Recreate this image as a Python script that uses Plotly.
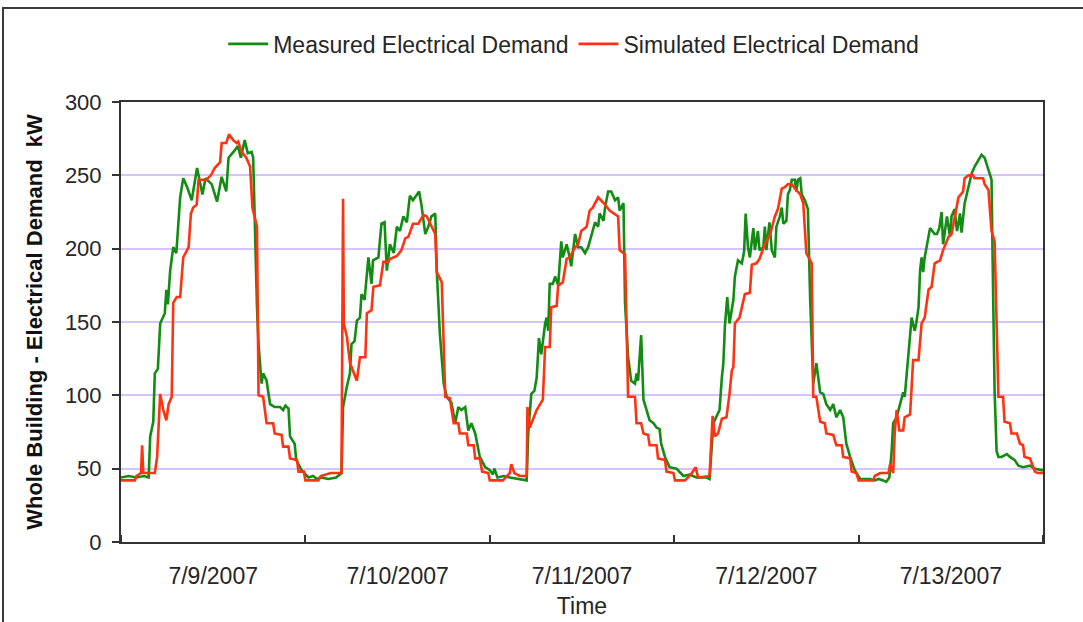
import pandas as pd
import plotly.graph_objects as go

# Measured electrical demand (hours since 7/9/2007 00:00, kW)
meas_hours = [0, 1, 2, 3, 3.6, 3.8, 4.2, 4.4, 4.8, 5.1, 5.7, 5.9, 6.1, 6.4, 6.8, 7.2, 7.7, 8.1, 8.6, 9.2, 9.9, 10.6, 11.0, 11.8, 12.5, 13.1, 13.7, 14.0, 14.8, 15.2, 15.6, 16.1, 16.5, 17.0, 17.2, 17.4, 17.7, 17.9, 18.3, 18.5, 18.95, 19.4, 20.0, 20.7, 21.1, 21.4, 21.8, 22.0, 22.6, 22.8, 23.5, 24.4,
              25, 25.5, 26, 27, 28, 28.7, 28.9, 29.4, 29.8, 30.0, 30.4, 30.7, 31.1, 31.3, 31.7, 32.2, 32.6, 32.8, 33.5, 33.9, 34.3, 34.6, 35.0, 35.5, 35.9, 36.3, 36.75, 37.2, 37.6, 38.0, 38.5, 38.8, 39.1, 39.6, 40.0, 40.4, 40.9, 41.1, 41.5, 42.0, 42.4, 43.0, 43.5, 43.9, 44.3, 44.8, 45.2, 45.6, 46.1, 46.7, 47.4, 48.0,
              48.4, 48.6, 49, 49.8, 50.6, 51.7, 52.8, 53.0, 53.4, 53.8, 54.1, 54.4, 54.7, 55.2, 55.4, 55.6, 55.8, 56.2, 56.5, 56.9, 57.3, 57.5, 58.0, 58.4, 58.6, 59.1, 59.5, 59.9, 60.4, 60.8, 61.2, 61.7, 62.1, 62.3, 62.8, 63.0, 63.4, 63.8, 64.3, 64.7, 64.9, 65.4, 65.6, 66.0, 66.4, 66.9, 67.1, 67.3, 67.5, 67.7, 68.0, 68.4, 68.8, 69.3, 69.7, 70.1, 70.3, 70.8, 71.4, 72.3,
              73.2, 74.0, 74.9, 76.2, 76.6, 77.1, 77.5, 77.9, 78.2, 78.4, 78.6, 78.9, 79.2, 79.5, 79.7, 79.9, 80.3, 80.8, 81.1, 81.3, 81.6, 81.85, 82.3, 82.5, 82.9, 83.1, 83.6, 83.8, 84.0, 84.4, 84.7, 85.1, 85.3, 85.75, 86.0, 86.2, 86.6, 86.8, 87.05, 87.3, 87.7, 87.9, 88.1, 88.4, 88.6, 89.0, 89.4, 89.7, 90.1, 90.5, 91.0, 91.4, 91.8, 92.3, 92.7, 93.1, 93.6, 94.0, 94.4, 94.9, 95.5, 96.2,
              97.5, 98.1, 98.6, 99.2, 99.6, 100.0, 100.3, 100.5, 100.95, 101.4, 101.8, 102.0, 102.2, 102.6, 102.9, 103.3, 103.5, 103.8, 104.0, 104.2, 104.4, 104.6, 105.1, 105.3, 105.9, 106.2, 106.5, 106.8, 107.0, 107.5, 107.9, 108.1, 108.5, 108.8, 109.0, 109.2, 109.4, 109.8, 110.3, 110.7, 111.1, 111.6, 112.0, 112.4, 112.9, 113.3, 113.5, 113.7, 113.96, 114.2, 114.6, 115.3, 115.7, 116.3, 116.8, 117.4, 118.3, 118.95, 119.8, 120]
meas_kw = [44, 45, 44, 45, 44, 72, 82, 115, 118, 149, 156, 172, 162, 185, 201, 197, 235, 248, 242, 233, 255, 237, 248, 244, 232, 249, 239, 262, 267, 270, 262, 274, 265, 266, 262, 217, 160, 135, 108, 115, 110, 94, 92, 92, 90, 93, 91, 72, 67, 56, 49, 44,
           45, 43, 44, 43, 44, 47, 92, 106, 115, 135, 137, 151, 153, 169, 165, 194, 176, 192, 194, 217, 218, 185, 203, 197, 215, 212, 222, 218, 236, 233, 237, 239, 230, 210, 215, 222, 224, 185, 142, 108, 99, 95, 81, 92, 90, 92, 76, 81, 74, 58, 51, 49,
           46, 50, 44, 45, 44, 43, 42, 74, 101, 103, 112, 139, 128, 149, 153, 144, 176, 176, 181, 175, 205, 194, 203, 194, 188, 210, 201, 201, 197, 201, 208, 218, 215, 224, 219, 228, 239, 239, 233, 235, 226, 231, 163, 126, 110, 108, 115, 110, 126, 141, 97, 90, 83, 81, 78, 77, 67, 58, 51, 50,
           45, 46, 44, 44, 43, 81, 85, 90, 112, 122, 147, 167, 149, 160, 165, 181, 192, 190, 198, 224, 201, 194, 214, 199, 212, 199, 201, 215, 199, 218, 199, 194, 215, 222, 228, 217, 219, 237, 240, 247, 247, 239, 247, 248, 237, 233, 227, 165, 108, 122, 102, 101, 94, 90, 94, 85, 90, 85, 67, 58, 49, 43,
           43, 42, 43, 42, 41, 44, 62, 81, 85, 94, 102, 99, 112, 133, 153, 144, 149, 160, 185, 194, 184, 194, 208, 214, 210, 210, 214, 225, 203, 222, 208, 222, 227, 212, 217, 224, 211, 231, 242, 251, 256, 261, 264, 262, 253, 247, 172, 103, 62, 58, 58, 60, 58, 56, 52, 51, 52, 50, 49, 49]

# Simulated electrical demand (hours since 7/9/2007 00:00, kW)
sim_hours = [0, 1.8, 2.0, 2.6, 2.75, 2.9, 4.4, 4.7, 5.1, 5.5, 5.9, 6.2, 6.6, 6.8, 7.25, 7.7, 8.1, 8.8, 9.1, 9.4, 9.85, 10.1, 11.1, 11.7, 12.2, 12.9, 13.1, 13.7, 14.05, 14.6, 15.05, 15.25, 15.7, 16.3, 16.8, 17.1, 17.7, 17.9, 18.5, 18.95, 19.8, 20.0, 20.9, 21.1, 21.8, 22.0, 22.9, 23.1, 23.8, 24.0,
             25.7, 26.0, 27.3, 28.7, 28.9, 29.0, 29.4, 29.8, 30.7, 31.1, 31.8, 32.0, 32.6, 32.85, 33.7, 34.15, 34.8, 35.0, 35.9, 36.5, 37.0, 37.4, 38.0, 38.7, 38.9, 39.4, 39.8, 40.4, 40.9, 41.1, 41.75, 42.2, 42.8, 43.3, 43.9, 44.1, 45.0, 45.2, 45.9, 46.1, 46.7, 47.0, 47.8, 48.0,
             49.7, 50.6, 50.8, 51.2, 51.9, 52.8, 52.9, 53.2, 53.6, 54.1, 54.9, 55.2, 55.8, 56.0, 56.7, 56.9, 57.5, 58.0, 58.4, 59.1, 59.5, 59.9, 60.6, 61.0, 61.4, 62.1, 63.0, 63.6, 64.7, 64.9, 65.6, 66.0, 66.9, 67.1, 67.7, 68.0, 68.6, 68.8, 69.7, 69.9, 70.8, 71.0, 71.9, 72.1,
             73.4, 74.3, 74.8, 75.1, 76.6, 77.0, 77.3, 77.7, 78.2, 78.8, 79.2, 79.5, 79.7, 79.9, 80.5, 81.2, 81.85, 82.1, 82.7, 83.1, 83.8, 84.5, 85.1, 85.5, 86.0, 86.4, 86.8, 87.3, 87.7, 88.4, 88.8, 89.2, 89.9, 90.1, 90.5, 91.0, 91.6, 91.8, 92.7, 93.1, 93.8, 94.0, 94.9, 95.1, 95.7, 96.0,
             97.9, 98.1, 98.8, 99.9, 100.1, 100.5, 100.7, 100.95, 101.3, 101.8, 102.0, 102.7, 103.1, 103.8, 104.2, 104.6, 105.1, 105.5, 105.9, 106.6, 107.0, 107.7, 108.1, 108.5, 109.0, 109.6, 109.8, 110.3, 110.9, 111.1, 111.8, 112.2, 112.4, 112.9, 113.3, 113.7, 114.2, 114.8, 115.0, 115.7, 115.9, 116.6, 117.0, 117.4, 117.6, 118.3, 118.95, 119.3, 120]
sim_kw = [42, 42, 45, 47, 66, 47, 47, 58, 101, 90, 83, 94, 99, 163, 167, 167, 194, 201, 224, 228, 230, 247, 247, 250, 255, 259, 272, 272, 278, 274, 272, 273, 266, 262, 256, 228, 215, 100, 99, 81, 81, 74, 73, 65, 65, 57, 56, 48, 48, 42,
          42, 45, 47, 47, 234, 149, 140, 122, 110, 126, 126, 156, 158, 174, 175, 191, 191, 193, 195, 199, 207, 208, 217, 217, 219, 223, 222, 215, 210, 184, 177, 99, 98, 81, 81, 74, 74, 66, 66, 57, 57, 48, 47, 42,
          42, 47, 53, 47, 45, 45, 92, 78, 83, 90, 97, 133, 133, 160, 161, 175, 177, 193, 194, 201, 203, 212, 215, 226, 228, 235, 230, 226, 222, 199, 196, 99, 99, 81, 81, 74, 73, 66, 66, 57, 56, 48, 47, 42,
          42, 47, 51, 44, 45, 86, 72, 74, 84, 85, 101, 117, 119, 149, 153, 169, 170, 189, 190, 193, 203, 210, 222, 227, 241, 242, 244, 244, 241, 237, 231, 197, 190, 99, 99, 82, 81, 74, 73, 66, 66, 58, 57, 48, 47, 42,
          42, 45, 47, 47, 53, 47, 74, 90, 76, 76, 85, 87, 124, 124, 149, 153, 172, 174, 190, 192, 199, 208, 210, 222, 235, 239, 248, 250, 250, 248, 248, 248, 244, 240, 212, 205, 99, 99, 82, 81, 74, 74, 67, 66, 58, 57, 48, 47, 47]

start = pd.Timestamp("2007-07-09")
meas_t = start + pd.to_timedelta(meas_hours, unit="h")
sim_t = start + pd.to_timedelta(sim_hours, unit="h")

FONT = "Liberation Sans, Arial, sans-serif"
TXT = "#262626"
AX = "#333333"

fig = go.Figure()
fig.add_trace(go.Scatter(x=meas_t, y=meas_kw, mode="lines", name="Measured Electrical Demand",
                         line=dict(color="#128C12", width=2.6)))
fig.add_trace(go.Scatter(x=sim_t, y=sim_kw, mode="lines", name="Simulated Electrical Demand",
                         line=dict(color="#FF3311", width=2.6)))

fig.update_layout(
    width=1083, height=622,
    paper_bgcolor="white", plot_bgcolor="white",
    margin=dict(l=121, r=40, t=102, b=80, autoexpand=False),
    font=dict(family=FONT, size=22, color=TXT),
    legend=dict(orientation="h", x=0.491, xanchor="center", y=1.132, yanchor="middle",
                font=dict(size=23, color=TXT), bgcolor="rgba(0,0,0,0)", itemwidth=40,
                tracegroupgap=0),
    xaxis=dict(
        type="date", automargin=False,
        range=[start, start + pd.Timedelta(days=5)],
        tick0=start, dtick=86400000, ticklabelmode="period",
        tickformat="%-m/%-d/%Y",
        ticks="inside", ticklen=7, tickwidth=1.5, tickcolor=AX,
        showline=True, linecolor=AX, linewidth=2, mirror=True,
        showgrid=False, zeroline=False,
        tickfont=dict(size=23, color=TXT),
        ticklabelstandoff=12,
        title=dict(text="Time", font=dict(size=23, color=TXT), standoff=10),
    ),
    yaxis=dict(
        range=[0, 300], dtick=50, tick0=0, automargin=False,
        ticks="outside", ticklen=7, tickwidth=1.5, tickcolor=AX,
        showline=True, linecolor=AX, linewidth=2, mirror=True,
        showgrid=True, gridcolor="#D7C3F7", gridwidth=1.5, zeroline=False,
        tickfont=dict(size=22, color=TXT),
        ticklabelstandoff=6,
        title=dict(text="<b>Whole Building - Electrical Demand  kW</b>",
                   font=dict(size=22, color="#111111"), standoff=16),
    ),
)

# outer chart frame
fig.add_shape(type="rect", xref="paper", yref="paper",
              x0=(3 - 121) / 922, x1=(1095 - 121) / 922,
              y0=(542 - 640) / 440, y1=(542 - 8) / 440,
              line=dict(color="#3a3a3a", width=2), fillcolor="rgba(0,0,0,0)", layer="below")

fig.write_html("out.html", config={"displayModeBar": False},
               post_script="document.body.style.margin='0';")
